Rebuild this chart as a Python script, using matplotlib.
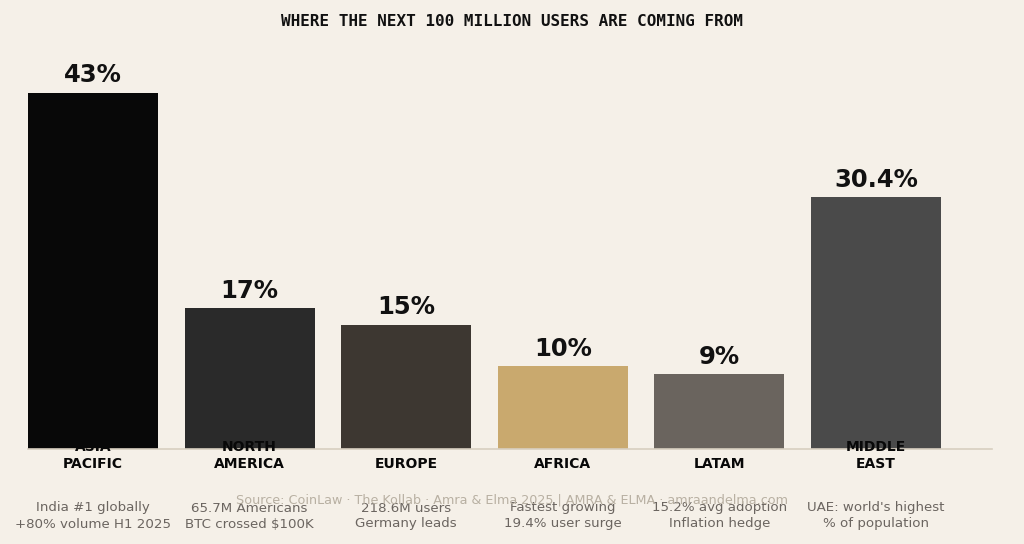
import matplotlib.pyplot as plt
import matplotlib.transforms as mtransforms

regions = ["ASIA\nPACIFIC", "NORTH\nAMERICA", "EUROPE", "AFRICA", "LATAM", "MIDDLE\nEAST"]
shares = [43, 17, 15, 10, 9, 30.4]
value_labels = ["43%", "17%", "15%", "10%", "9%", "30.4%"]
notes = [
    "India #1 globally\n+80% volume H1 2025",
    "65.7M Americans\nBTC crossed $100K",
    "218.6M users\nGermany leads",
    "Fastest growing\n19.4% user surge",
    "15.2% avg adoption\nInflation hedge",
    "UAE: world's highest\n% of population",
]
bar_colors = ["#080808", "#2a2a2a", "#3d3731", "#c9a96e", "#6a645e", "#4a4a4a"]

title = "WHERE THE NEXT 100 MILLION USERS ARE COMING FROM"
source = "Source: CoinLaw · The Kollab · Amra & Elma 2025 | AMRA & ELMA · amraandelma.com"

bg = "#f5f0e8"

fig = plt.figure(figsize=(10.24, 5.44), dpi=100, facecolor=bg)
ax = fig.add_axes([28 / 1024, 95 / 544, 964 / 1024, 414 / 544])
ax.set_facecolor(bg)

xs = list(range(len(regions)))
ax.bar(xs, shares, width=0.83, color=bar_colors, zorder=2)
ax.set_xlim(-0.415, 5.74)
ax.set_ylim(0, 50)

for x, v, lab in zip(xs, shares, value_labels):
    ax.annotate(lab, (x, v), xytext=(0, 4), textcoords="offset points",
                ha="center", va="bottom", fontsize=17.5, fontweight="bold",
                color="#111111", zorder=3)

for side in ["top", "right", "left"]:
    ax.spines[side].set_visible(False)
ax.spines["bottom"].set_color("#d8cfc0")
ax.spines["bottom"].set_linewidth(1.2)
ax.set_xticks([])
ax.set_yticks([])

# category names sit just under the baseline; first line of two-line names
# runs up onto the bar
trans = mtransforms.blended_transform_factory(ax.transData, fig.transFigure)
for x, name, note in zip(xs, regions, notes):
    ax.text(x, 73 / 544, name, transform=trans, ha="center", va="bottom",
            fontsize=10, fontweight="bold", color="#080808", zorder=4,
            linespacing=1.3)
    ax.text(x, 28 / 544, note, transform=trans, ha="center", va="center",
            fontsize=9.6, color="#6b6560", linespacing=1.3)

fig.text(0.5, 1 - 21 / 544, title, ha="center", va="center",
         fontsize=11.5, fontweight="bold", family="DejaVu Sans Mono",
         color="#111111")
fig.text(0.5, 44 / 544, source, ha="center", va="center",
         fontsize=9.2, color="#b8b0a2")

fig.savefig("out.png", dpi=100, facecolor=bg)
